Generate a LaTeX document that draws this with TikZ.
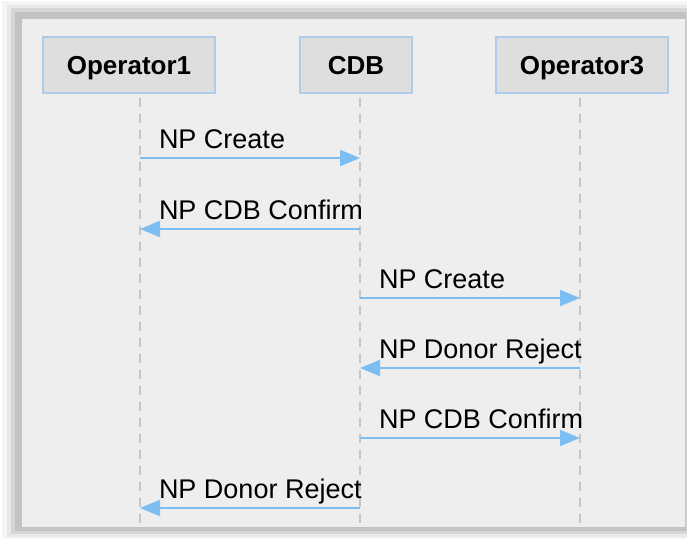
\documentclass[tikz,border=0pt]{standalone}
\usepackage{fontspec}
\setmainfont{Liberation Sans}
\usetikzlibrary{calc}
\usetikzlibrary{arrows.meta}

\definecolor{panelbg}{HTML}{EEEEEE}
\definecolor{boxbg}{HTML}{DEDEDE}
\definecolor{boxline}{HTML}{AECBEA}
\definecolor{msgblue}{HTML}{7DBEF2}
\definecolor{lifegray}{HTML}{C6C6C6}

\tikzset{
	actor/.style	= {draw=boxline, line width=1.5pt, fill=boxbg, minimum height=56pt, inner sep=0pt, text depth=0pt, font=\fontsize{26}{30}\selectfont\bfseries},
	life/.style		= {draw=lifegray, line width=2.8pt, dash pattern=on 9pt off 7pt},
	msg/.style		= {draw=msgblue, line width=2pt, -{Triangle[length=20pt,width=16pt]}},
	lbl/.style		= {inner sep=0pt, anchor=base west, font=\fontsize{27}{31}\selectfont}
}

\begin{document}
\begin{tikzpicture}[x=1pt, y=-1pt]
	\useasboundingbox (0,0) rectangle (687,539);

	% frame with soft shadow
	\fill[black!4]	(2,1)	rectangle (687,539);
	\fill[black!9]	(7,5)	rectangle (687,537);
	\fill[black!16]	(11,8)	rectangle (687,534);
	\fill[black!24]	(15,12)	rectangle (686,531);
	\fill[panelbg]	(22,19)	rectangle (685,527);

	\node[actor, minimum width=172pt]	(op1)	at (129,65)	{Operator1};
	\node[actor, minimum width=112pt]	(cdb)	at (356,65)	{CDB};
	\node[actor, minimum width=172pt]	(op3)	at (582,65)	{Operator3};

	% lifelines
	\coordinate (l1)	at (140,98);
	\coordinate (l2)	at (360,98);
	\coordinate (l3)	at (580,98);
	\coordinate (l1e)	at (140,526);
	\coordinate (l2e)	at (360,526);
	\coordinate (l3e)	at (580,526);
	\draw[life] (l1) -- (l1e);
	\draw[life] (l2) -- (l2e);
	\draw[life] (l3) -- (l3e);

	% message rows
	\coordinate (m1)	at (0,158);
	\coordinate (m2)	at (0,229);
	\coordinate (m3)	at (0,298);
	\coordinate (m4)	at (0,368);
	\coordinate (m5)	at (0,438);
	\coordinate (m6)	at (0,508);

	\draw[msg] (l1 |- m1) -- (l2 |- m1) node[lbl, at start, xshift=18pt, yshift=10pt] (t1) {NP Create};
	\draw[msg] (l2 |- m2) -- (l1 |- m2) node[lbl, at end, xshift=18pt, yshift=10pt] (t2) {NP CDB Confirm};
	\draw[msg] (l2 |- m3) -- (l3 |- m3) node[lbl, at start, xshift=18pt, yshift=10pt] (t3) {NP Create};
	\draw[msg] (l3 |- m4) -- (l2 |- m4) node[lbl, at end, xshift=18pt, yshift=10pt] (t4) {NP Donor Reject};
	\draw[msg] (l2 |- m5) -- (l3 |- m5) node[lbl, at start, xshift=18pt, yshift=10pt] (t5) {NP CDB Confirm};
	\draw[msg] (l2 |- m6) -- (l1 |- m6) node[lbl, at end, xshift=18pt, yshift=10pt] (t6) {NP Donor Reject};
\end{tikzpicture}
\end{document}
